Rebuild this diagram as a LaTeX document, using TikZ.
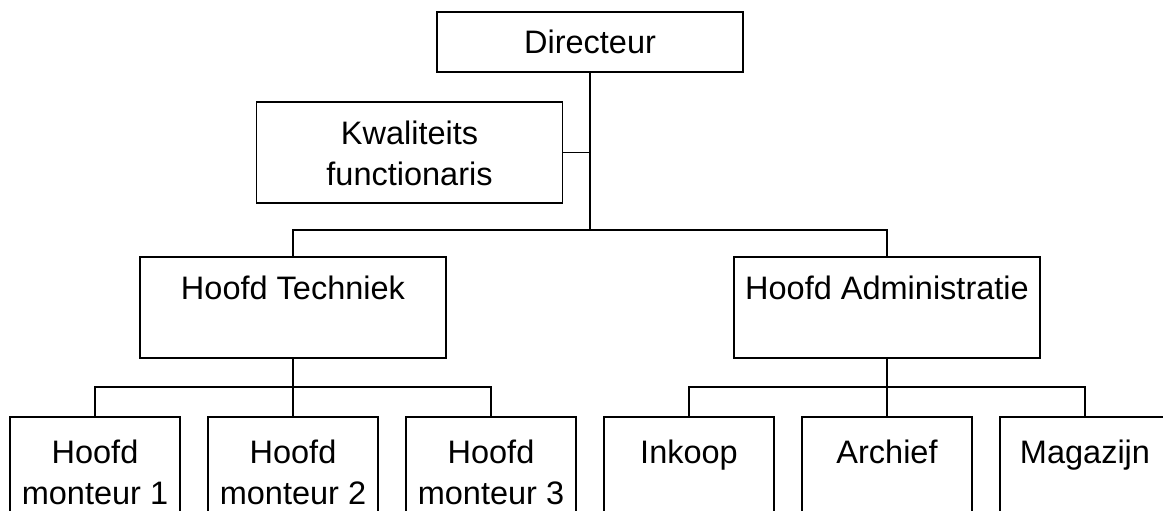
\documentclass[tikz,border=0pt]{standalone}
\usepackage{fontspec}
\setmainfont{Liberation Sans}
\begin{document}
\begin{tikzpicture}[x=1pt,y=1pt,
  orgbox/.style={draw,line width=1.8pt,inner sep=0pt,align=center,
    font=\fontsize{32.5}{41}\selectfont,text height=24pt,text depth=41pt},
  twolines/.style={text height=65pt,text depth=0pt},
  topbox/.style={orgbox,minimum width=306pt,minimum height=60pt,text depth=0pt},
  midbox/.style={orgbox,minimum width=306pt,minimum height=101pt},
  lowbox/.style={orgbox,minimum width=170pt,minimum height=110pt},
  edge from parent/.style={draw,line width=1.8pt},
  level 1/.style={level distance=265.5pt,sibling distance=594pt,
    edge from parent path={(\tikzparentnode.south) -- ++(0,-157pt) -| (\tikzchildnode.north)}},
  level 2/.style={level distance=164.5pt,sibling distance=198pt,
    edge from parent path={(\tikzparentnode.south) -- ++(0,-28pt) -| (\tikzchildnode.north)}}]
\useasboundingbox (0,0) rectangle (1163,-511);
\node[topbox] (dir) at (590,-42) {Directeur}
child {
    node[midbox] (tech) {Hoofd Techniek}
    child {
        node[lowbox,twolines] (mont1) {Hoofd\\monteur 1}
    }
    child {
        node[lowbox,twolines] (mont2) {Hoofd\\monteur 2}
    }
    child {
        node[lowbox,twolines] (mont3) {Hoofd\\monteur 3}
    }
}
child {
    node[midbox] (adm) {Hoofd Administratie}
    child {
        node[lowbox] (inkoop) {Inkoop}
    }
    child {
        node[lowbox] (archief) {Archief}
    }
    child {
        node[lowbox] (magazijn) {Magazijn}
    }
};
% staf functie naast de lijn
\node[midbox,twolines] (kwal) at (409.5,-152.5) {Kwaliteits\\functionaris};
\draw[line width=1.8pt] (kwal.east) -- (kwal.east -| dir.south);
\end{tikzpicture}
\end{document}
